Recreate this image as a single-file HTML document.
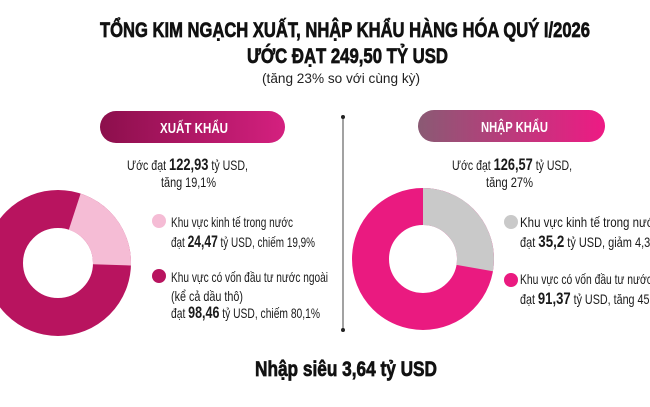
<!DOCTYPE html>
<html><head><meta charset="utf-8"><style>
html,body{margin:0;padding:0;background:#fff;}
svg{display:block;font-family:"Liberation Sans",sans-serif;}
</style></head><body>
<svg width="650" height="407" viewBox="0 0 650 407" xmlns="http://www.w3.org/2000/svg">
<defs>
<linearGradient id="gl" x1="0" x2="1" y1="0" y2="0"><stop offset="0" stop-color="#8c0f4c"/><stop offset="1" stop-color="#d4207f"/></linearGradient>
<linearGradient id="gr" x1="0" x2="1" y1="0" y2="0"><stop offset="0" stop-color="#8a5a74"/><stop offset="1" stop-color="#ee1a84"/></linearGradient>
</defs>
<rect width="650" height="407" fill="#fff"/>
<g fill="#111" font-weight="bold" stroke="#111" stroke-width="0.7">
<text x="100" y="37" font-size="21" textLength="490" lengthAdjust="spacingAndGlyphs">TỔNG KIM NGẠCH XUẤT, NHẬP KHẨU HÀNG HÓA QUÝ I/2026</text>
<text x="247" y="63" font-size="21" textLength="201" lengthAdjust="spacingAndGlyphs">ƯỚC ĐẠT 249,50 TỶ USD</text>
</g>
<text x="262" y="83" font-size="14" fill="#222" textLength="158" lengthAdjust="spacingAndGlyphs">(tăng 23% so với cùng kỳ)</text>

<rect x="100" y="111" width="185" height="32" rx="16" fill="url(#gl)"/>
<text x="160" y="133" font-size="15" font-weight="bold" fill="#fff" textLength="68" lengthAdjust="spacingAndGlyphs">XUẤT KHẨU</text>
<rect x="418" y="110" width="187" height="32" rx="16" fill="url(#gr)"/>
<text x="481" y="132" font-size="15" font-weight="bold" fill="#fff" textLength="67" lengthAdjust="spacingAndGlyphs">NHẬP KHẨU</text>

<line x1="343" y1="117" x2="343" y2="330" stroke="#444" stroke-width="1"/>
<circle cx="343" cy="117" r="2" fill="#222"/><circle cx="343" cy="330" r="2" fill="#222"/>

<circle cx="58" cy="263" r="54" fill="none" stroke="#b8145f" stroke-width="38"/>
<path d="M80.6 193.6 A73 73 0 0 1 131 265.5 L93 264.2 A35 35 0 0 0 68.8 229.7 Z" fill="#f5bcd5"/>
<circle cx="423" cy="259" r="52.5" fill="none" stroke="#ea1a80" stroke-width="37"/>
<path d="M423 188 A71 71 0 0 1 492.9 271.3 L456.5 264.9 A34 34 0 0 0 423 225 Z" fill="#c9c9c9"/>

<g font-size="14" fill="#1a1a1a">
<text x="127" y="170" textLength="121" lengthAdjust="spacingAndGlyphs">Ước đạt <tspan font-weight="bold" font-size="17">122,93</tspan> tỷ USD,</text>
<text x="161" y="187" textLength="55" lengthAdjust="spacingAndGlyphs">tăng 19,1%</text>
<text x="171" y="227" textLength="122" lengthAdjust="spacingAndGlyphs">Khu vực kinh tế trong nước</text>
<text x="171" y="247" textLength="144" lengthAdjust="spacingAndGlyphs">đạt <tspan font-weight="bold" font-size="17">24,47</tspan> tỷ USD, chiếm 19,9%</text>
<text x="171" y="282" textLength="157" lengthAdjust="spacingAndGlyphs">Khu vực có vốn đầu tư nước ngoài</text>
<text x="171" y="301" textLength="72" lengthAdjust="spacingAndGlyphs">(kể cả dầu thô)</text>
<text x="171" y="318" textLength="149" lengthAdjust="spacingAndGlyphs">đạt <tspan font-weight="bold" font-size="17">98,46</tspan> tỷ USD, chiếm 80,1%</text>

<text x="452" y="170" textLength="120" lengthAdjust="spacingAndGlyphs">Ước đạt <tspan font-weight="bold" font-size="17">126,57</tspan> tỷ USD,</text>
<text x="486" y="187" textLength="47" lengthAdjust="spacingAndGlyphs">tăng 27%</text>
<text x="520" y="227" textLength="140" lengthAdjust="spacingAndGlyphs">Khu vực kinh tế trong nước</text>
<text x="520" y="247" textLength="140" lengthAdjust="spacingAndGlyphs">đạt <tspan font-weight="bold" font-size="17">35,2</tspan> tỷ USD, giảm 4,3%</text>
<text x="520" y="284" textLength="160" lengthAdjust="spacingAndGlyphs">Khu vực có vốn đầu tư nước ngoài</text>
<text x="520" y="304" textLength="148" lengthAdjust="spacingAndGlyphs">đạt <tspan font-weight="bold" font-size="17">91,37</tspan> tỷ USD, tăng 45,6%</text>
</g>
<circle cx="159" cy="221" r="7" fill="#f5bcd5"/>
<circle cx="159" cy="276" r="7" fill="#b8145f"/>
<circle cx="511" cy="222" r="7" fill="#c9c9c9"/>
<circle cx="511" cy="280" r="7" fill="#ea1a80"/>

<text x="255" y="376" font-size="21" font-weight="bold" fill="#111" stroke="#111" stroke-width="0.7" textLength="182" lengthAdjust="spacingAndGlyphs">Nhập siêu 3,64 tỷ USD</text>
</svg>
</body></html>
